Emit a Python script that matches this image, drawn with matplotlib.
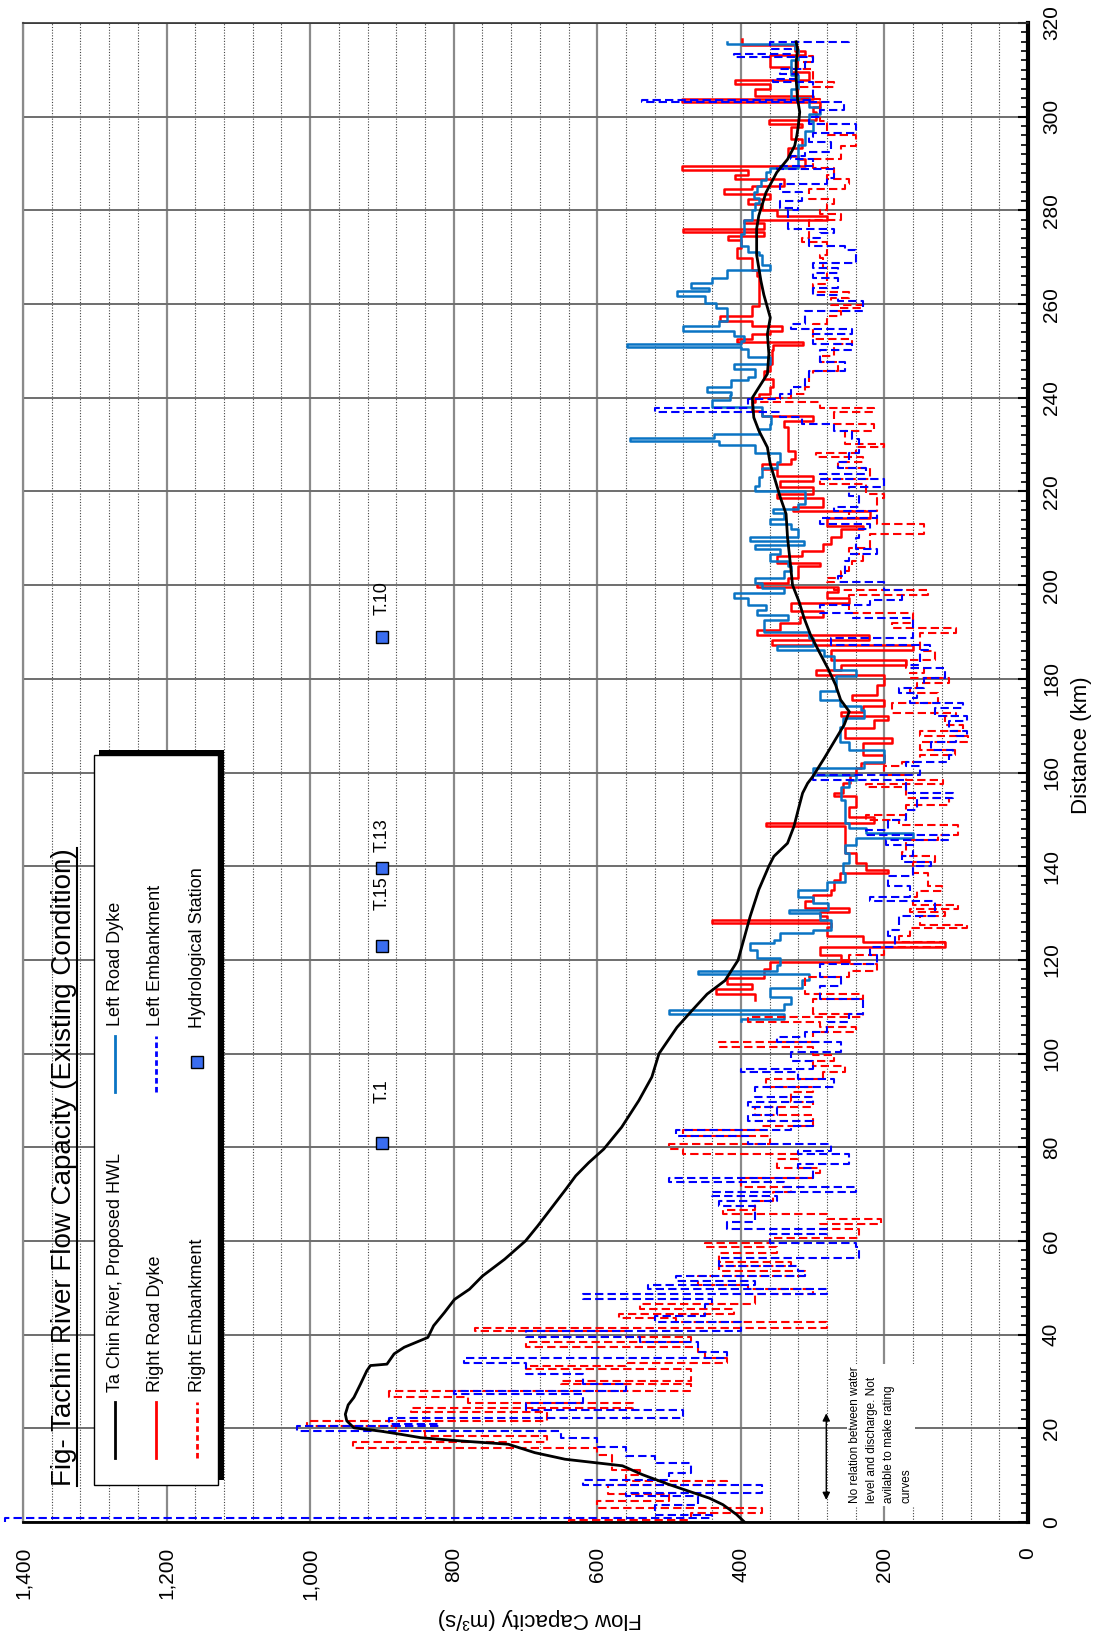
import numpy as np
import matplotlib
matplotlib.use("Agg")
import matplotlib.pyplot as plt
from matplotlib.lines import Line2D
from matplotlib.patches import Rectangle
from matplotlib.ticker import MultipleLocator, FuncFormatter

plt.rcParams['font.family'] = ['Liberation Sans', 'DejaVu Sans']

# ---------------- data ----------------
# Ta Chin River, proposed HWL
hwl_km = [0, 1.6, 3.7, 5.1, 8, 10.1, 12, 13.4, 14.8, 16.6, 17.3, 18, 18.7, 19.4, 20.1, 21.6, 23, 25, 26.6,
          29.4, 32.3, 33.4, 33.7, 35.9, 37.3, 39.4, 41.9, 44.7, 47.5, 49.7, 52.5, 56.1, 60, 63.2, 66.8, 71,
          73.9, 76.7, 79.6, 84.3, 90, 95, 100, 105.6, 109.2, 112.7, 115.6, 119.9, 124.3, 129.3, 135, 140,
          142.1, 144.9, 148.5, 152.7, 155.6, 157.7, 159.1, 163, 166.6, 170.2, 173, 175.5, 178.7, 182.3,
          185.8, 189.4, 193, 196.5, 200, 204.5, 210.2, 215.2, 218.7, 222.3, 225.8, 229.4, 233, 235.8, 240,
          245.1, 249.4, 253.6, 257.1, 262, 264.9, 267.7, 270.5, 273.3, 276.1, 278.9, 283.8, 288.1,
          290.9, 293.8, 296, 298, 301, 303.8, 308, 311.6, 314.5, 316]
hwl_q = [395, 406, 425, 444, 500, 537, 565, 645, 687, 724, 790, 846, 873, 902, 939, 949, 951, 947, 939,
         930, 921, 916, 893, 883, 869, 836, 828, 813, 799, 778, 760, 729, 700, 683, 665, 644,
         630, 612, 591, 566, 542, 524, 514, 489, 468, 447, 422, 404, 396, 387, 375, 361,
         354, 335, 326, 319, 314, 307, 300, 284, 270, 256, 249, 261, 268, 279,
         291, 303, 312, 319, 328, 331, 335, 337, 345, 352, 359, 363, 375, 382, 384,
         363, 361, 363, 359, 368, 372, 375, 378, 378, 378, 375, 365, 350,
         335, 325, 322, 320, 318, 321, 323, 323, 321, 323]

# Right Road Dyke
rrd_km = [111.5, 112.7, 113.8, 114.9, 116.2, 118, 119.5, 120, 121, 122.8, 123.9, 125, 127.1, 127.8, 128.5,
          129.3, 130.3, 131, 132.5, 133.9, 135, 137, 138.5, 139.2, 140.6, 142.8, 148.5, 149.2, 150.6, 152.7,
          154.9, 155.6, 157.7, 159.5, 161, 162, 163.8, 166.3, 167.3, 169.5, 171.2, 172, 173, 174.1, 175.5,
          176.6, 178.7, 180.9, 181.9, 183, 184.1, 186.2, 187.3, 188.3, 189.4, 190.5, 191.9, 193.3, 194.4,
          196.2, 197.2, 198.6, 199.7, 200.5, 201.6, 204.1, 204.8, 206.3, 207.3, 208.8, 210.2, 212, 212.7,
          214.4, 215.9, 216.6, 218.7, 219.4, 220.9, 222.3, 223.3, 224.8, 225.8, 226.9, 228.7, 233.7, 235.1,
          236.2, 237.2, 239, 240, 240.9, 242.3, 244, 245.8, 247.3, 250.1, 251.2, 251.8, 252.5, 253.6, 254.3,
          255.4, 256.4, 257.5, 259.6, 264, 266, 267.3, 269.8, 271.9, 273.7, 274.5, 275.3, 276, 277.2, 277.9,
          278.9, 280, 281.3, 282.4, 283.4, 284.5, 285.2, 286.6, 287.5, 288.6, 289.4, 290.9, 291.6, 293.4,
          295.2, 297.7, 298.5, 299.2, 301, 302, 303.1, 303.8, 304.5, 305.9, 307, 307.8, 309.5, 310.6, 313.1,
          314.1, 315.2, 316.5]
rrd_q = [380, 435, 385, 420, 368, 360, 250, 260, 290, 116, 230, 280, 275, 440, 280,
         290, 250, 310, 300, 275, 270, 262, 195, 225, 240, 255, 365, 215, 250, 240,
         270, 258, 248, 240, 232, 200, 230, 190, 255, 215, 195, 260, 230, 200, 245,
         210, 200, 296, 260, 170, 275, 160, 356, 222, 377, 345, 318, 285, 330,
         250, 280, 265, 377, 335, 320, 290, 350, 315, 285, 275, 260, 230, 280,
         220, 328, 285, 350, 300, 345, 300, 350, 370, 330, 325, 335, 340, 300,
         370, 385, 380, 375, 360, 355, 368, 360, 357, 355, 314, 405, 385, 360, 342,
         384, 429, 385, 375, 375, 378, 385, 405, 400, 418, 368, 480, 368, 395, 280,
         350, 370, 390, 360, 424, 385, 340, 408, 390, 482, 310, 320, 335, 315,
         330, 315, 361, 295, 300, 290, 482, 300, 380, 360, 408, 305, 330, 360, 310,
         325, 398]

# Left Road Dyke
lrd_km = [107, 107.4, 108.5, 109.2, 110.6, 112, 114, 115.8, 117, 117.7, 119, 120.4, 122.1, 123.6, 124.3,
          125.7, 126.4, 128.5, 130, 130.7, 132.1, 133.5, 135, 136.7, 138.5, 140.6, 142.8, 144.6, 146, 147,
          148.1, 149.2, 154.2, 157, 158.4, 159.5, 161, 162.3, 164.8, 166.6, 169.8, 171.6, 173.4, 174.1,
          175.5, 177.3, 180.5, 181.9, 184.8, 186.2, 186.9, 188.7, 190.1, 192.6, 193.7, 194.7, 195.8, 197.2,
          198.3, 199.4, 200.5, 201.6, 203.1, 204.1, 205.2, 206.6, 207.7, 208.5, 209.5, 210.2, 212, 213,
          214.1, 215.5, 216.2, 217.3, 220.1, 221.2, 223, 225.1, 226.2, 228.3, 230, 230.8, 231.5, 232.2,
          233.3, 234.4, 236, 238, 239.6, 240.5, 241.3, 242.3, 243.7, 244.4, 246.2, 247.3, 248.7, 250.5,
          250.8, 251.5, 252.2, 253.2, 254.3, 255.4, 256.4, 259.2, 260.3, 261.7, 262.7, 263.5, 264.5, 265.6,
          267.3, 268.4, 270.5, 271.2, 272.3, 275, 278, 280, 281.5, 282.7, 284, 285.2, 286.5, 288.1, 289,
          291, 294, 297, 299, 300.5, 302, 304, 306, 309, 312, 314.5, 315.5, 316]
lrd_q = [400, 340, 500, 340, 330, 360, 315, 305, 460, 350, 345, 377, 387, 354, 345,
         300, 275, 290, 333, 279, 300, 320, 280, 255, 258, 250, 255, 240, 160, 225,
         250, 255, 260, 250, 240, 300, 228, 200, 250, 262, 258, 228, 232, 262,
         290, 267, 240, 270, 284, 349, 300, 305, 368, 335, 377, 365, 390, 410,
         340, 370, 380, 340, 330, 335, 360, 345, 380, 312, 387, 320, 330, 360,
         340, 355, 320, 310, 380, 375, 370, 350, 345, 380, 430, 555, 438, 375,
         360, 358, 370, 440, 415, 414, 447, 414, 390, 380, 410, 360, 390, 400,
         559, 400, 395, 410, 480, 430, 420, 435, 450, 489, 445, 470, 440, 420,
         360, 370, 375, 390, 400, 395, 385, 380, 375, 382, 378, 372, 365, 360, 320,
         320, 310, 300, 305, 290, 305, 330, 320, 330, 320, 325, 420]

# Right Embankment
re_km = [0, 0.5, 2, 3, 4.5, 6, 8, 8.7, 10, 11.2, 14.4, 15.9, 17, 18.4, 19.4, 20.5, 21.6, 23.4, 24.4, 25.5,
         26.6, 28, 29.4, 30.1, 32.6, 33.4, 34, 35, 36.2, 37.3, 38.4, 39.4, 40.8, 41.5, 42.6, 43.6, 44.3,
         45.4, 46.5, 48.6, 49.7, 50.7, 52.5, 53.6, 54.7, 55.5, 57.5, 58.6, 59.5, 60.7, 62.5, 63.6, 64.6,
         65.7, 66.5, 68.5, 70.5, 71.5, 73.5, 74.4, 75.5, 77.4, 78.5, 79.6, 80.7, 82.5, 83.6, 84.6, 86.8,
         88.5, 89.6, 91.7, 92.8, 94.6, 96, 97.4, 98.5, 99.6, 101.4, 102.5, 104.6, 105.6, 106.7, 107.8, 108.5,
         111.7, 112.7, 116.3, 117.7, 119.1, 121, 122.8, 123.9, 125, 126.8, 127.5, 129.3, 130.3, 130.8, 131.7,
         133.5, 134.6, 135.7, 138.5, 141, 142.1, 143.1, 145.6, 146.7, 148.8, 149.9, 151, 153.1, 154.5, 157,
         157.5, 158.4, 159.5, 161.3, 162.3, 163.8, 164.8, 166.6, 167.7, 168.8, 170.2, 172, 172.7, 174.8,
         176.9, 178, 179.1, 180.1, 181.2, 182.3, 184, 186, 189.8, 190.8, 191.9, 194, 197.9, 199, 200.6,
         201.6, 203.1, 204.1, 205.2, 206.6, 208, 210.9, 213, 214.4, 215.9, 218.7, 219.4, 221.6, 222.6,
         225.1, 226.2, 227.3, 228.3, 229.4, 230.1, 233, 234.4, 236.9, 237.9, 239, 240, 240.9, 242.3, 245,
         245.8, 247.6, 249, 251.5, 252.5, 255.7, 257.5, 258.5, 259.2, 259.9, 261.3, 262.5, 264.2, 267.7,
         269.8, 270.5, 273.3, 274, 277.9, 279.3, 280, 281.3, 282.5, 284.5, 285.6, 286.6, 287.5, 289, 290.9,
         293.8, 296, 299, 302.4, 303.8, 306.3, 307.5, 310.2, 311.6, 313, 315]
re_q = [640, 470, 370, 600, 500, 585, 420, 560, 540, 580, 600, 940, 670, 840, 880, 1005, 670, 860, 550, 780,
        890, 470, 650, 470, 700, 560, 420, 450, 460, 700, 470, 560, 770, 280, 490, 570, 410,
        540, 380, 300, 390, 460, 310, 430, 330, 430, 350, 450, 360, 235, 290, 205, 280,
        425, 380, 355, 330, 400, 300, 290, 350, 320, 480, 500, 360, 480, 370, 300, 380,
        300, 330, 300, 365, 285, 255, 300, 270, 300, 430, 300, 240, 290, 390, 230, 300,
        230, 310, 250, 210, 250, 200, 115, 180, 165, 85, 150, 115, 165, 97, 160,
        155, 120, 140, 160, 130, 175, 170, 125, 97, 180, 225, 170, 110, 170, 225,
        118, 170, 200, 175, 150, 102, 150, 83, 150, 90, 115, 100, 190, 125,
        165, 155, 110, 165, 145, 170, 130, 150, 100, 190, 160, 250, 140, 270, 280,
        260, 250, 245, 230, 250, 220, 145, 210, 250, 210, 200, 225, 290, 220,
        265, 230, 295, 240, 200, 255, 215, 270, 215, 290, 380, 330, 310, 305, 300,
        265, 290, 270, 245, 300, 280, 260, 265, 230, 275, 250, 300, 280, 285,
        290, 280, 315, 305, 260, 290, 280, 270, 305, 255, 250, 280, 270, 300, 260,
        240, 280, 290, 290, 320, 270, 300, 320, 300, 320]

# Left Embankment
le_km = [0, 0.8, 1.6, 3.7, 5.5, 6.2, 8, 9, 10.5, 12.5, 14, 16, 18, 19.4, 20.5, 21, 22.3, 24, 25.5, 27.3, 28,
         29.4, 31.6, 34, 35, 36.2, 38.4, 39.4, 40.8, 42.6, 44, 46.5, 47.5, 48.6, 49.7, 50.7, 51.5, 52.5,
         53.6, 54.7, 56.4, 58.6, 59.5, 61.4, 62.5, 64, 67.5, 68.5, 69.6, 70.5, 71.5, 72.5, 73.5, 75.5, 76.5,
         78.5, 79.2, 80.7, 82.5, 83.6, 84.6, 85.7, 86.8, 88.5, 89.6, 90.7, 92.8, 94.6, 96, 96.7, 98.5, 100.3,
         102.4, 103.5, 104.6, 106.7, 108.5, 111.7, 114.5, 116.3, 119.1, 121, 122.8, 125, 126.4, 129.3, 132.5,
         133.5, 135.7, 137.8, 140, 141, 142.1, 144.6, 145.6, 146.7, 147.8, 149.9, 152, 154.5, 155.6, 158.4,
         159.5, 161.3, 162.3, 163.8, 164.8, 166.6, 167.7, 168.8, 170.9, 172, 173.7, 174.8, 175.9, 176.9, 178,
         180.1, 182.3, 183, 186.2, 187.3, 188.7, 193, 194, 195.8, 196.9, 199, 200.6, 202, 205.2, 206.6, 207.7,
         210, 212, 213, 214.4, 215.9, 216.6, 219, 220.9, 222.6, 223.7, 225.1, 226.2, 228.3, 231.2, 233,
         234.4, 235.8, 236.9, 237.9, 239.7, 240.9, 242.3, 244, 245.8, 247.6, 250.1, 251.5, 253.6, 254.6,
         255.7, 258.5, 260.6, 262, 263.5, 265.6, 266.6, 267.7, 268.7, 271.5, 272.3, 274, 275.1, 276.1, 280,
         280.5, 282, 284, 285.6, 287, 288.8, 289.5, 290.9, 291.6, 292.4, 294.5, 295.6, 296.6, 298.4, 300,
         301.5, 303.1, 303.6, 304.9, 307.4, 308, 309.1, 310.2, 311.6, 312.7, 313.4, 314.5, 315.9, 316.5]
le_q = [1425, 440, 520, 460, 560, 370, 620, 500, 470, 520, 560, 600, 650, 1019, 820, 890, 480, 700, 620, 800,
        560, 620, 700, 785, 420, 460, 540, 700, 400, 520, 450, 440, 620, 280, 530, 380, 490, 310,
        320, 430, 235, 240, 360, 280, 420, 380, 430, 350, 440, 240, 340, 500, 300, 320, 250,
        320, 275, 390, 490, 330, 300, 390, 350, 390, 300, 380, 270, 320, 400, 300, 330, 260,
        350, 310, 280, 250, 230, 290, 260, 290, 210, 220, 185, 195, 180, 130, 220,
        165, 195, 160, 135, 175, 160, 198, 110, 225, 195, 170, 155, 105, 170, 300,
        150, 170, 110, 105, 135, 100, 85, 110, 85, 130, 90, 165, 155, 180, 145,
        115, 165, 150, 137, 275, 160, 245, 290, 220, 175, 200, 265, 255, 250, 210, 240,
        235, 220, 290, 210, 270, 235, 250, 200, 290, 225, 265, 250, 235, 245, 270,
        315, 345, 520, 390, 345, 330, 310, 305, 255, 290, 245, 300, 245, 330,
        310, 230, 265, 300, 265, 300, 265, 300, 240, 255, 305, 290, 270, 335, 320,
        345, 315, 345, 280, 270, 350, 300, 330, 310, 275, 305, 300, 240, 305, 290,
        256, 538, 300, 300, 355, 320, 345, 310, 300, 410, 330, 360, 250]

# Hydrological stations
st_names = ['T.1', 'T.15', 'T.13', 'T.10']
st_km = [81, 123, 139.7, 189]
st_q = [900, 900, 900, 900]

note = "No relation between water\nlevel and discharge. Not\navilable to make rating\ncurves"

# ---------------- figure ----------------
W, H = 1101, 1636
fig = plt.figure(figsize=(W / 100, H / 100), dpi=100)


def fx(x):
    return x / W


def fy(y):
    return 1 - y / H


ax = fig.add_axes([fx(23), fy(1522), 1005 / W, 1499 / H])
ax.set_xlim(1400, 0)
ax.set_ylim(0, 320)

c_red = '#ff0000'
c_blue = '#0000ff'
c_lrd = '#0a74c4'


def steps(ax, km, q, **kw):
    q = list(q) + [q[-1]]
    ax.plot(q, km, drawstyle='steps-pre', **kw)


steps(ax, rrd_km, rrd_q, color=c_red, lw=1.8, zorder=3)
steps(ax, lrd_km, lrd_q, color=c_lrd, lw=1.8, zorder=3)
steps(ax, re_km, re_q, color=c_red, lw=1.5, dashes=(4, 2), zorder=4)
steps(ax, le_km, le_q, color=c_blue, lw=1.5, dashes=(4, 2), zorder=4, clip_on=False)
ax.plot(hwl_q, hwl_km, color='black', lw=2, zorder=5)

ax.plot(st_q, st_km, 's', ms=9, mfc='#3a6df0', mec='black', mew=1, zorder=6)
for name, q, km, off in zip(st_names, st_q, st_km, [40, 36, 16, 22]):
    ax.annotate(name, (q, km), xytext=(0, off * 0.72), textcoords='offset points',
                rotation=90, ha='center', va='bottom', fontsize=13, zorder=6)

# note about the first reach
ax.text(205, 4.0, note, rotation=90, ha='center', va='bottom', fontsize=8.5, linespacing=1.55,
        multialignment='left', zorder=6,
        bbox=dict(facecolor='white', edgecolor='none', pad=2))
ax.annotate('', xy=(281, 4.7), xytext=(281, 23.2),
            arrowprops=dict(arrowstyle='<|-|>', color='black', lw=1, mutation_scale=11,
                            shrinkA=0, shrinkB=0), zorder=6)

# axes / grid
ax.xaxis.set_major_locator(MultipleLocator(200))
ax.xaxis.set_minor_locator(MultipleLocator(40))
ax.yaxis.set_major_locator(MultipleLocator(20))
ax.yaxis.set_minor_locator(MultipleLocator(2))
ax.xaxis.set_major_formatter(FuncFormatter(lambda v, p: f"{int(v):,}"))
ax.grid(True, axis='x', which='major', color='#8a8a8a', lw=1.6, ls='-', zorder=0)
ax.grid(True, axis='x', which='minor', color='#444444', lw=0.8, ls=(0, (1, 1.5)), zorder=0)
ax.grid(True, axis='y', which='major', color='#6e6e6e', lw=1.4, ls='-', zorder=0)
ax.set_axisbelow(True)

ax.tick_params(axis='x', which='both', length=0, pad=18, labelsize=15, labelrotation=90)
ax.yaxis.tick_right()
ax.tick_params(axis='y', which='major', direction='in', length=7, width=1.5, pad=10,
               labelsize=15, labelrotation=90)
ax.tick_params(axis='y', which='minor', direction='in', length=5, width=1.2)
for lab in ax.get_yticklabels():
    lab.set_verticalalignment('center')

ax.spines['right'].set_linewidth(3)
ax.spines['bottom'].set_linewidth(2)
ax.spines['top'].set_linewidth(1.2)
ax.spines['top'].set_color('#333333')
ax.spines['left'].set_linewidth(1.6)
ax.spines['left'].set_color('#8a8a8a')

fig.text(fx(540), fy(1618), 'Flow Capacity (m³/s)', rotation=180, ha='center', va='center', fontsize=16)
fig.text(fx(1082), fy(745), 'Distance (km)', rotation=90, ha='center', va='center', fontsize=16)

# ---------------- legend box (drawn by hand, rotated) ----------------
fig.add_artist(Rectangle((fx(99), fy(1480)), (224 - 99) / W, (1480 - 750) / H,
                         transform=fig.transFigure, facecolor='black', edgecolor='none', zorder=10))
fig.add_artist(Rectangle((fx(94), fy(1485)), (218 - 94) / W, (1485 - 755) / H,
                         transform=fig.transFigure, facecolor='white', edgecolor='black', lw=1, zorder=11))

title = fig.text(fx(64), fy(1486), 'Fig- Tachin River Flow Capacity (Existing Condition)',
                 rotation=90, ha='center', va='bottom', fontsize=20, zorder=12)

items_left = [('Ta Chin River, Proposed HWL', dict(color='black', lw=2)),
              ('Right Road Dyke', dict(color=c_red, lw=2)),
              ('Right Embankment', dict(color=c_red, lw=2, dashes=(2, 1.2)))]
for (label, kw), x in zip(items_left, [115, 156, 197]):
    fig.add_artist(Line2D([fx(x), fx(x)], [fy(1458), fy(1402)], transform=fig.transFigure, zorder=12, **kw))
    fig.text(fx(x), fy(1392), label, rotation=90, ha='center', va='bottom', fontsize=13, zorder=12)

items_right = [('Left Road Dyke', dict(color=c_lrd, lw=2)),
               ('Left Embankment', dict(color=c_blue, lw=2, dashes=(2, 1.2)))]
for (label, kw), x in zip(items_right, [115, 156]):
    fig.add_artist(Line2D([fx(x), fx(x)], [fy(1092), fy(1036)], transform=fig.transFigure, zorder=12, **kw))
    fig.text(fx(x), fy(1026), label, rotation=90, ha='center', va='bottom', fontsize=13, zorder=12)
fig.add_artist(Line2D([fx(197)], [fy(1062)], marker='s', ms=8, mfc='#3a6df0', mec='black', mew=1,
                      transform=fig.transFigure, zorder=12))
fig.text(fx(197), fy(1028), 'Hydrological Station', rotation=90, ha='center', va='bottom', fontsize=13, zorder=12)

# underline the title
fig.canvas.draw()
bb = title.get_window_extent()
fig.add_artist(Line2D([fx(77), fx(77)], [bb.y0 / H, bb.y1 / H], color='black', lw=1.5,
                      transform=fig.transFigure, zorder=12))

fig.savefig('out.png', dpi=100)
